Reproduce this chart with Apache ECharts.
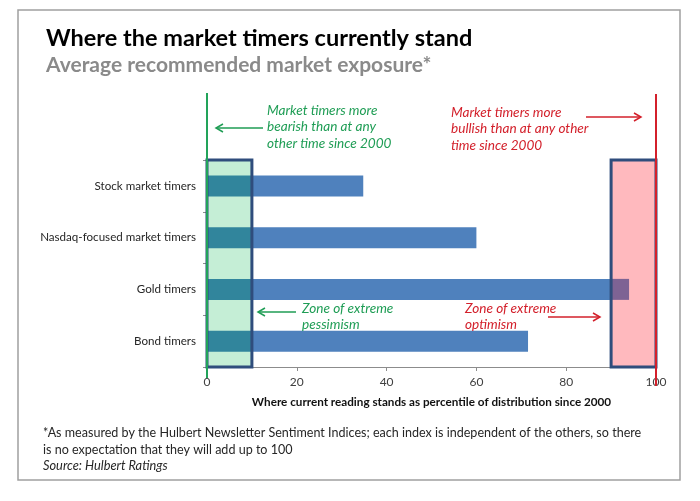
<!DOCTYPE html>
<html>
<head>
<meta charset="utf-8">
<script src="https://cdn.jsdelivr.net/npm/echarts@6/dist/echarts.min.js"></script>
<style>
  html, body { margin: 0; padding: 0; background: #fff; }
  #main { width: 700px; height: 501px; }
</style>
</head>
<body>
<div id="main"></div>
<script>
  // data
  const categories = ['Stock market timers', 'Nasdaq-focused market timers', 'Gold timers', 'Bond timers']
  const percentiles = [34.8, 60, 94, 71.5]
  const pessimismZone = [0, 10]
  const optimismZone = [90, 100]
  const xTicks = [0, 20, 40, 60, 80, 100]

  const FONT = 'Lato'
  const GREEN = '#1f9d55'
  const RED = '#d3202b'

  // split each bar where it runs through the two zones
  let inPessimism = percentiles.map(v => Math.min(v, pessimismZone[1]))
  let middle = percentiles.map(v => Math.max(Math.min(v, optimismZone[0]) - pessimismZone[1], 0))
  let inOptimism = percentiles.map(v => Math.max(v - optimismZone[0], 0))

  let chart = echarts.init(document.getElementById('main'))

  chart.setOption({
    backgroundColor: '#fff',
    animation: false,
    title: [
      {
        text: 'Where the market timers currently stand',
        left: 41, top: 21,
        textStyle: { fontFamily: FONT, fontSize: 23.5, fontWeight: 'bold', color: '#000' }
      },
      {
        text: 'Average recommended market exposure*',
        left: 41, top: 50,
        textStyle: { fontFamily: FONT, fontSize: 21, fontWeight: 'bold', color: '#8a8a8a' }
      }
    ],
    grid: { left: 207, right: 44, top: 160, bottom: 134 },
    xAxis: {
      type: 'value',
      min: xTicks[0],
      max: xTicks[xTicks.length - 1],
      interval: 20,
      splitLine: { show: false },
      axisLine: { show: true, lineStyle: { color: '#8c8c8c', width: 1 } },
      axisTick: { show: true, length: 4, lineStyle: { color: '#8c8c8c' } },
      axisLabel: { margin: 9, fontFamily: FONT, fontSize: 12, color: '#404040' },
      name: 'Where current reading stands as percentile of distribution since 2000',
      nameLocation: 'middle',
      nameGap: 29,
      nameTextStyle: { fontFamily: FONT, fontSize: 11.7, fontWeight: 'bold', color: '#111' }
    },
    yAxis: {
      type: 'category',
      data: categories,
      inverse: true,
      axisLine: { show: true, lineStyle: { color: '#8c8c8c' } },
      axisTick: { show: true, length: 4, lineStyle: { color: '#8c8c8c' } },
      axisLabel: { margin: 11, fontFamily: FONT, fontSize: 11.6, color: '#262626' }
    },
    series: [
      {
        type: 'bar',
        stack: 'reading',
        data: inPessimism,
        barWidth: 21,
        itemStyle: { color: '#31859c' },
        markArea: {
          silent: true,
          itemStyle: { borderWidth: 0 },
          data: [
            [{ xAxis: pessimismZone[0], itemStyle: { color: '#c5eed6' } }, { xAxis: pessimismZone[1] }],
            [{ xAxis: optimismZone[0], itemStyle: { color: '#ffb9be' } }, { xAxis: optimismZone[1] }]
          ]
        }
      },
      {
        type: 'bar',
        stack: 'reading',
        data: middle,
        barWidth: 21,
        itemStyle: { color: '#4f81bd' }
      },
      {
        type: 'bar',
        stack: 'reading',
        data: inOptimism,
        barWidth: 21,
        itemStyle: { color: '#7e6394' },
        markArea: {
          silent: true,
          z: 5,
          itemStyle: { color: 'rgba(0,0,0,0)', borderColor: '#2f4d7c', borderWidth: 3 },
          data: [
            [{ xAxis: pessimismZone[0] }, { xAxis: pessimismZone[1] }],
            [{ xAxis: optimismZone[0] }, { xAxis: optimismZone[1] }]
          ]
        }
      }
    ]
  })

  // annotations, placed against the axis scale
  let x0 = chart.convertToPixel({ xAxisIndex: 0 }, xTicks[0])
  let x100 = chart.convertToPixel({ xAxisIndex: 0 }, xTicks[xTicks.length - 1])

  function arrow (x1, x2, y, color) {
    let dir = x2 > x1 ? -1 : 1
    return [
      { type: 'line', z: 20, shape: { x1: x1, y1: y, x2: x2, y2: y }, style: { stroke: color, lineWidth: 1.5 } },
      { type: 'polyline', z: 20, shape: { points: [[x2 + dir * 7, y - 4], [x2, y], [x2 + dir * 7, y + 4]] }, style: { stroke: color, lineWidth: 1.5, fill: null } }
    ]
  }

  function note (x, y, text, color) {
    return {
      type: 'text', z: 20, x: x, y: y,
      style: {
        text: text, fill: color, font: 'italic 13.6px ' + FONT,
        lineHeight: 16.5, textVerticalAlign: 'top'
      }
    }
  }

  let graphics = [
    {
      type: 'rect', z: -1,
      shape: { x: 18, y: 10, width: 662, height: 470 },
      style: { fill: null, stroke: '#a0a0a0', lineWidth: 1.5 }
    },
    { type: 'line', z: 15, shape: { x1: x0, y1: 93, x2: x0, y2: 378 }, style: { stroke: '#22a35a', lineWidth: 2 } },
    { type: 'line', z: 15, shape: { x1: x100, y1: 94, x2: x100, y2: 386 }, style: { stroke: RED, lineWidth: 2 } },
    note(267, 102, 'Market timers more\nbearish than at any\nother time since 2000', GREEN),
    note(451, 104, 'Market timers more\nbullish than at any other\ntime since 2000', RED),
    note(302, 300, 'Zone of extreme\npessimism', GREEN),
    note(465, 300, 'Zone of extreme\noptimism', RED),
    {
      type: 'text', x: 43, y: 424,
      style: {
        text: '*As measured by the Hulbert Newsletter Sentiment Indices; each index is independent of the others, so there\nis no expectation that they will add up to 100',
        fill: '#262626', font: '12.55px ' + FONT, lineHeight: 17.5, textVerticalAlign: 'top'
      }
    },
    {
      type: 'text', x: 43, y: 459,
      style: { text: 'Source: Hulbert Ratings', fill: '#262626', font: 'italic 12.8px ' + FONT, textVerticalAlign: 'top' }
    }
  ]
  graphics = graphics.concat(arrow(263, 216, 128, GREEN))
  graphics = graphics.concat(arrow(586, 641, 117, RED))
  graphics = graphics.concat(arrow(296, 258, 312, GREEN))
  graphics = graphics.concat(arrow(548, 600, 317, RED))

  chart.setOption({ graphic: graphics })
</script>
</body>
</html>
